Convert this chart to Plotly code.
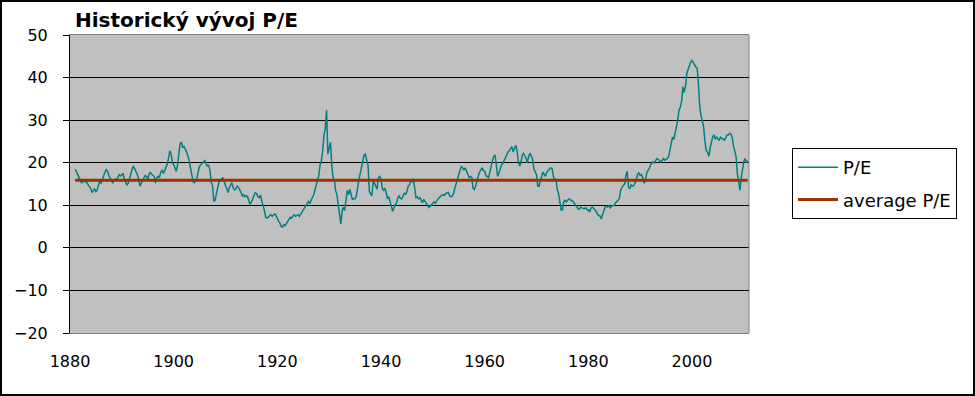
import plotly.graph_objects as go

# Quarterly P/E values (Q1..Q4 for each year)
pe_1881_1890 = [18.5, 18.0, 17.2, 16.5, 15.8, 15.2, 16.0, 15.5, 15.6, 15.4, 14.8, 14.5,
                14.0, 13.0, 13.3, 13.8, 13.2, 13.6, 14.8, 15.5, 15.2, 16.2, 17.0, 17.8,
                18.4, 18.0, 17.0, 16.5, 16.0, 15.2, 15.8, 16.2, 16.0, 16.8, 17.2, 16.9,
                17.2, 17.5, 16.0, 15.2]
pe_1891_1900 = [14.8, 15.2, 16.5, 17.4, 18.5, 19.2, 18.6, 17.8, 17.2, 16.0, 14.5, 15.2,
                15.8, 16.5, 17.0, 16.8, 16.2, 17.2, 17.8, 17.3, 17.0, 16.8, 15.2, 16.5,
                16.8, 16.5, 17.8, 18.2, 17.5, 18.3, 19.0, 19.6, 21.0, 22.8, 22.0, 20.0,
                19.6, 18.5, 18.0, 19.5]
pe_1901_1910 = [21.5, 24.5, 24.8, 23.5, 23.8, 23.2, 22.5, 21.5, 20.5, 18.8, 16.5, 15.5,
                15.3, 15.8, 16.5, 18.0, 19.2, 19.5, 19.8, 20.3, 20.5, 19.8, 19.2, 19.5,
                18.2, 15.5, 14.5, 10.9, 11.2, 12.8, 14.0, 15.5, 15.8, 16.2, 16.5, 15.5,
                14.5, 13.6, 13.0, 14.2]
pe_1911_1920 = [14.8, 15.3, 14.0, 13.6, 13.8, 14.5, 14.2, 13.7, 13.0, 12.2, 12.5, 12.0,
                12.3, 12.0, 11.0, 10.2, 10.8, 11.5, 12.4, 13.0, 12.8, 12.0, 11.8, 12.4,
                11.0, 10.0, 8.8, 7.2, 7.0, 7.2, 7.5, 7.8, 7.4, 7.8, 8.0, 7.6,
                6.8, 6.2, 5.8, 5.0]
pe_1921_1930 = [4.9, 5.4, 5.2, 5.7, 6.2, 6.8, 7.2, 7.0, 7.5, 7.8, 7.4, 7.6,
                7.8, 7.4, 7.9, 8.4, 9.0, 9.4, 9.8, 10.5, 10.9, 10.4, 11.4, 11.8,
                12.4, 13.5, 14.6, 15.8, 17.0, 19.5, 20.5, 22.8, 26.5, 28.0, 32.3, 22.0,
                23.5, 24.8, 19.5, 16.5]
pe_1931_1940 = [16.0, 13.5, 12.5, 9.8, 8.5, 5.6, 8.8, 9.5, 8.8, 11.5, 13.5, 12.5,
                13.8, 12.5, 11.3, 11.6, 11.5, 12.3, 14.5, 16.0, 17.5, 19.5, 20.5, 21.8,
                22.0, 20.5, 19.5, 13.2, 12.8, 12.2, 15.8, 15.0, 14.5, 13.8, 16.5, 16.8,
                16.3, 14.0, 13.5, 14.0]
pe_1941_1950 = [13.0, 11.5, 12.0, 10.5, 9.8, 8.6, 9.4, 10.2, 10.5, 11.8, 12.2, 11.6,
                11.5, 12.0, 12.8, 12.6, 13.2, 14.5, 14.8, 15.8, 15.5, 16.3, 13.5, 11.8,
                12.0, 11.5, 11.8, 11.2, 10.6, 11.4, 11.0, 10.4, 10.0, 9.5, 9.8, 10.3,
                10.6, 10.8, 10.5, 11.2]
pe_1951_1960 = [11.5, 11.8, 12.2, 12.4, 12.5, 12.3, 12.8, 13.0, 13.0, 12.2, 12.0, 12.2,
                12.8, 14.0, 15.2, 16.4, 17.2, 18.2, 19.2, 18.6, 18.3, 18.8, 18.0, 17.5,
                16.5, 16.8, 16.6, 14.0, 13.7, 14.5, 15.5, 16.8, 17.8, 18.2, 18.8, 18.2,
                18.0, 17.0, 16.8, 16.5]
pe_1961_1970 = [17.8, 19.5, 20.5, 21.5, 21.8, 19.5, 16.8, 17.5, 18.5, 19.5, 19.8, 20.5,
                21.2, 22.0, 22.5, 22.8, 23.3, 23.8, 22.5, 23.6, 24.1, 22.8, 20.2, 19.2,
                20.0, 21.8, 22.2, 21.6, 21.0, 20.0, 21.6, 22.2, 21.5, 20.8, 18.5, 18.0,
                17.2, 14.5, 14.5, 15.8]
pe_1971_1980 = [16.8, 17.8, 17.2, 16.8, 17.8, 18.3, 18.5, 18.8, 18.7, 16.8, 15.8, 16.2,
                13.7, 12.8, 11.0, 8.9, 8.9, 10.8, 11.2, 10.8, 11.2, 11.5, 11.4, 11.0,
                11.0, 10.5, 10.2, 9.6, 9.2, 9.0, 9.6, 9.4, 9.3, 9.2, 9.4, 9.0,
                8.9, 8.4, 9.3, 9.6]
pe_1981_1990 = [9.3, 9.0, 8.6, 8.0, 7.6, 7.5, 6.8, 7.8, 8.7, 9.6, 9.8, 9.6,
                9.9, 9.4, 9.8, 10.0, 10.0, 10.6, 10.8, 11.2, 11.7, 13.6, 14.2, 14.5,
                15.0, 17.0, 18.0, 14.3, 13.9, 14.8, 14.5, 14.6, 15.1, 15.8, 17.3, 17.6,
                17.0, 17.2, 16.5, 15.2]
pe_1991_2000 = [15.6, 17.5, 18.2, 18.6, 19.5, 19.8, 20.2, 20.0, 20.5, 21.0, 20.8, 20.4,
                20.2, 20.5, 21.0, 20.6, 20.8, 21.0, 21.5, 23.0, 24.5, 26.0, 25.5, 27.0,
                28.5, 30.0, 32.4, 33.0, 34.5, 37.8, 36.5, 38.0, 41.0, 42.0, 43.0, 43.7,
                44.0, 43.6, 43.0, 42.5]
pe_2001_2010 = [42.2, 38.5, 33.1, 31.0, 30.0, 28.4, 25.0, 22.9, 22.5, 21.5, 23.5, 25.0,
                26.1, 26.5, 25.5, 26.0, 25.7, 25.2, 26.0, 25.8, 25.5, 25.3, 25.8, 26.5,
                26.5, 26.9, 26.8, 26.0, 24.0, 23.0, 21.5, 17.5, 15.5, 13.5, 16.5, 19.0,
                20.3, 21.0, 20.0, 20.5]

average_pe = 15.9
start_year = 1881
tick_years = [1880, 1900, 1920, 1940, 1960, 1980, 2000]
y_ticks = [-20, -10, 0, 10, 20, 30, 40, 50]

pe = (pe_1881_1890 + pe_1891_1900 + pe_1901_1910 + pe_1911_1920 + pe_1921_1930
      + pe_1931_1940 + pe_1941_1950 + pe_1951_1960 + pe_1961_1970 + pe_1971_1980
      + pe_1981_1990 + pe_1991_2000 + pe_2001_2010)
years = [start_year + i * 0.25 for i in range(len(pe))]
avg = [average_pe] * len(years)

FONT = "DejaVu Sans, Arial, sans-serif"

fig = go.Figure()
fig.add_trace(go.Scatter(x=years, y=pe, mode="lines", name="P/E",
                         line=dict(color="#008080", width=1.5), legendgroup="a"))
fig.add_trace(go.Scatter(x=years, y=avg, mode="lines", name="average P/E",
                         line=dict(color="#993300", width=3), legendgroup="b"))

L, R, T, B = 70, 226, 35, 63
pw, ph = 975 - L - R, 396 - T - B

fig.update_layout(
    width=975, height=396,
    margin=dict(l=L, r=R, t=T, b=B, autoexpand=False),
    paper_bgcolor="white", plot_bgcolor="#C0C0C0",
    font=dict(family=FONT, size=16, color="black"),
    title=dict(text="<b>Historický vývoj P/E</b>", xref="container", yref="container",
               x=75 / 975, xanchor="left", y=1 - 20 / 396, yanchor="middle",
               font=dict(family=FONT, size=20, color="black")),
    xaxis=dict(range=[1880, 2011], tickvals=tick_years, ticktext=[str(t) for t in tick_years],
               showgrid=False, zeroline=False, showline=True, linecolor="#808080",
               linewidth=1, mirror=True, ticks="", ticklabelstandoff=14,
               tickfont=dict(family=FONT, size=16, color="black")),
    yaxis=dict(range=[-20, 50], tickvals=y_ticks, showgrid=True, gridcolor="black",
               gridwidth=1, zeroline=False, showline=True, linecolor="black",
               linewidth=1, ticks="outside", ticklen=6, tickcolor="black",
               ticklabelstandoff=12, tickfont=dict(family=FONT, size=16, color="black")),
    legend=dict(x=(792 - L) / pw, y=(396 - B - 148) / ph, xanchor="left", yanchor="top",
                bgcolor="white", bordercolor="black", borderwidth=1,
                font=dict(family=FONT, size=18, color="black"),
                itemwidth=40, tracegroupgap=6),
    showlegend=True,
    shapes=[
        dict(type="line", xref="paper", yref="paper", x0=1, x1=1, y0=0, y1=1,
             line=dict(color="#808080", width=1)),
        dict(type="rect", xref="paper", yref="paper",
             x0=(1 - L) / pw, x1=(974 - L) / pw,
             y0=(396 - B - 395) / ph, y1=(396 - B - 1) / ph,
             line=dict(color="black", width=2)),
    ],
)

fig.write_html("out.html", config={"displayModeBar": False},
               post_script="document.body.style.margin='0';")
